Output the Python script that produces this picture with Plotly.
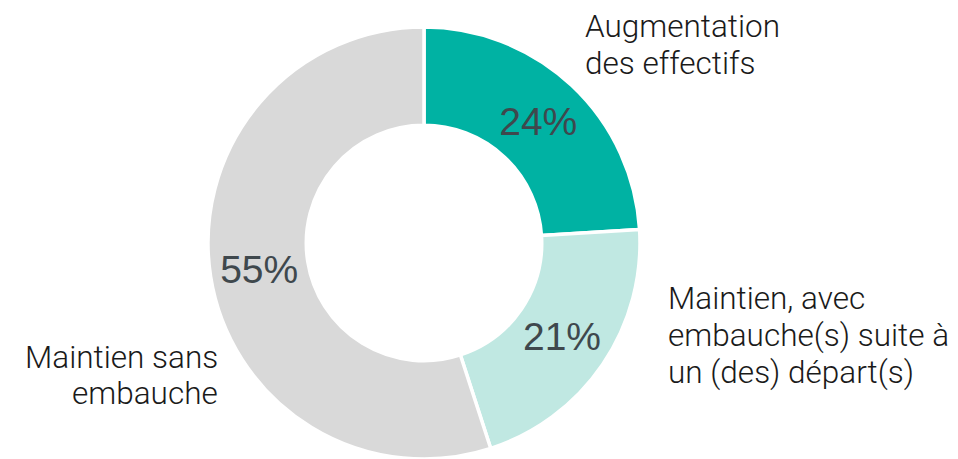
import plotly.graph_objects as go

categories = ["Augmentation des effectifs",
              "Maintien, avec embauche(s) suite à un (des) départ(s)",
              "Maintien sans embauche"]
values = [24, 21, 55]
colors = ["#00B2A3", "#C0E8E2", "#D9D9D9"]

# outer label lines per category
label_lines = [
    ["Augmentation", "des effectifs"],
    ["Maintien, avec", "embauche(s) suite à", "un (des) départ(s)"],
    ["Maintien sans", "embauche"],
]

OFF = 8  # page body margin
W, H = 958 - OFF, 459 - OFF
CX, CY, R = 424 - OFF, 243 - OFF, 216

fig = go.Figure()
fig.add_trace(go.Pie(
    labels=categories, values=values, sort=False, direction="clockwise",
    rotation=0, hole=0.545,
    marker=dict(colors=colors, line=dict(color="white", width=3.5)),
    texttemplate="%{value}%", textposition="inside",
    insidetextorientation="horizontal",
    textfont=dict(family="Arial, Liberation Sans", size=39, color="#3F484D"),
    domain=dict(x=[(CX - R) / W, (CX + R) / W],
                y=[(H - CY - R) / H, (H - CY + R) / H]),
    showlegend=False, hoverinfo="label+percent",
))

# label placement (reference pixel anchors)
anchors = [
    dict(x=583, ys=[27, 63], xanchor="left"),
    dict(x=666, ys=[298, 335, 372], xanchor="left"),
    dict(x=220, ys=[357, 393], xanchor="right"),
]
for lines, a in zip(label_lines, anchors):
    for line, yy in zip(lines, a["ys"]):
        fig.add_annotation(
            x=(a["x"] - OFF) / W, y=1 - (yy - OFF) / H, xref="paper", yref="paper",
            text=line, showarrow=False, xanchor=a["xanchor"], yanchor="middle",
            font=dict(family="Roboto", size=31.5, color="#1A1A1A", weight=300),
        )

fig.update_layout(
    width=W, height=H, margin=dict(l=0, r=0, t=0, b=0),
    paper_bgcolor="white", plot_bgcolor="white",
)
fig.write_html("out.html")
